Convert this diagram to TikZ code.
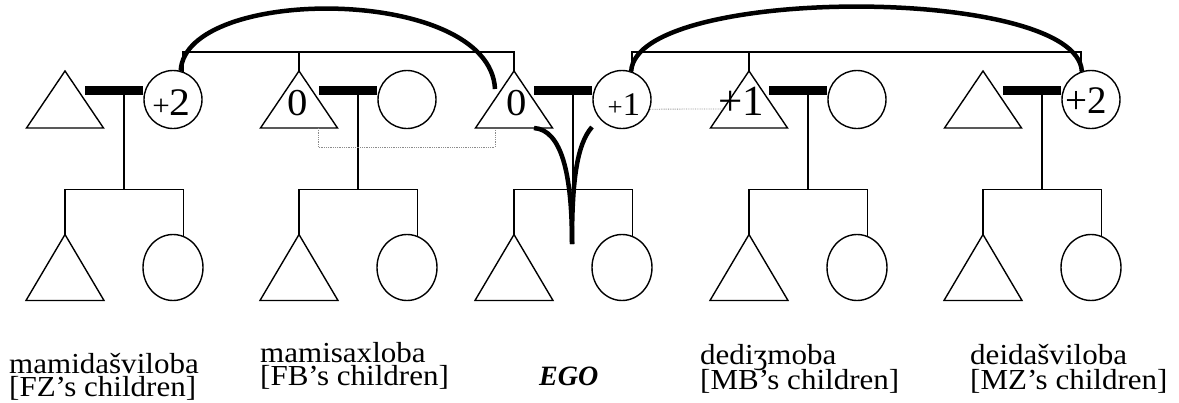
\documentclass[tikz,border=0pt]{standalone}
\usepackage{graphicx}
\usepackage{fontspec}
\setmainfont{Liberation Serif}
\usetikzlibrary{shapes.geometric}
% wide-set text, as in the original lettering
\newcommand\widetext[1]{\scalebox{1.07}[1]{#1}}
% two-line caption with fixed leading
\newcommand\kinlabel[3][23]{\widetext{\vtop{\baselineskip=#1pt\lineskiplimit=-1000pt\hbox{#2}\hbox{#3}}}}
\begin{document}
\begin{tikzpicture}[x=1pt,y=-1pt,
  kin/.style={line width=1.4pt},
  female/.style={kin, draw, circle, minimum size=58pt, inner sep=0pt},
  daughter/.style={kin, draw, ellipse, minimum width=60pt, minimum height=66pt, inner sep=0pt},
  wed/.style={line width=9pt},
  bond/.style={line width=4.5pt},
  cousinlink/.style={densely dotted, line width=0.8pt, draw=black!45},
  tag/.style={inner sep=0pt, anchor=base},
  caption/.style={inner sep=0pt, anchor=base west, font=\fontsize{29}{23}\selectfont},
]
\useasboundingbox (0,0) rectangle (1179,402);

% five couples with their two children each
\foreach \a/\n in {65/1, 299/2, 514/3, 749/4, 983/5} {
  \coordinate (t\n) at (\a,71);
  \draw[kin] (t\n) -- ++(38.5,57) -- ++(-77,0) -- cycle;
  \node[female] (c\n) at (\a+108,99.5) {};
  \coordinate (w\n) at (\a+20,90.5);
  \draw[wed] (w\n) -- (w\n -| c\n.west);
  \coordinate (d\n) at (\a+59,90.5);
  \coordinate (s\n) at (\a+59,189.5);
  \draw[kin] (d\n) -- (s\n);
  \coordinate (bt\n) at (\a,234.5);
  \draw[kin] (bt\n) -- ++(39,66) -- ++(-78,0) -- cycle;
  \node[daughter] (bc\n) at (\a+108,267.5) {};
  \draw[kin] (bt\n) |- (s\n) -| (bc\n.72);
}

% sibling sets of the parents' generation
\coordinate (genA) at (299,52);
\draw[kin] (c1.70) |- (genA) -| (t3);
\draw[kin] (genA) -- (t2);
\coordinate (genB) at (749,52);
\draw[kin] (c3.70) |- (genB) -| (c5.110);
\draw[kin] (genB) -- (t4);

% generation numbers
\node[tag] (lab1) at (171.5,115) {\widetext{\fontsize{29}{29}\selectfont+\fontsize{39}{39}\selectfont 2}};
\node[tag] (lab2) at (298,115) {\widetext{\fontsize{38}{38}\selectfont 0}};
\node[tag] (lab3) at (517,115) {\widetext{\fontsize{38}{38}\selectfont 0}};
\node[tag] (lab4) at (624,115) {\widetext{\fontsize{25}{25}\selectfont+\fontsize{33}{33}\selectfont 1}};
\node[tag] (lab5) at (741,115) {\fontsize{43}{43}\selectfont +1};
\node[tag] (lab6) at (1086.5,113) {\fontsize{39}{39}\selectfont +2};

% heavy bonds
\coordinate (fArc) at (495,89);
\draw[bond] (c1.75) .. controls (185,-15) and (490,-15) .. (fArc);
\draw[bond] (c3.72) .. controls (636,-15) and (1077,-15) .. (c5.108);
\coordinate (egoL) at (534,128);
\coordinate (egoR) at (592,127);
\coordinate (egoTip) at (572,244);
\draw[bond] (egoL) .. controls (562,130) and (572,175) .. (egoTip);
\draw[bond] (egoR) .. controls (576,145) and (572,185) .. (egoTip);

% dotted cross links
\coordinate (fbFoot) at (318,128);
\coordinate (fFoot) at (495,130);
\draw[cousinlink] (fbFoot) -- ++(0,19) -| (fFoot);
\coordinate (mbPlus) at (724,109);
\draw[cousinlink] (c3.-19) -- (mbPlus);

% captions
\node[caption] (fzKids) at (9,373) {\kinlabel{mamidašviloba}{[FZ’s children]}};
\node[caption] (fbKids) at (260,362.5) {\kinlabel{mamisaxloba}{[FB’s children]}};
\node[caption, font=\fontsize{28}{28}\selectfont\bfseries\itshape] (ego) at (539,385.5) {EGO};
\node[caption] (mbKids) at (700,364.5) {\kinlabel[25]{dediʒmoba}{[MB’s children]}};
\node[caption] (mzKids) at (970,364.5) {\kinlabel[25]{deidašviloba}{[MZ’s children]}};
\end{tikzpicture}
\end{document}
